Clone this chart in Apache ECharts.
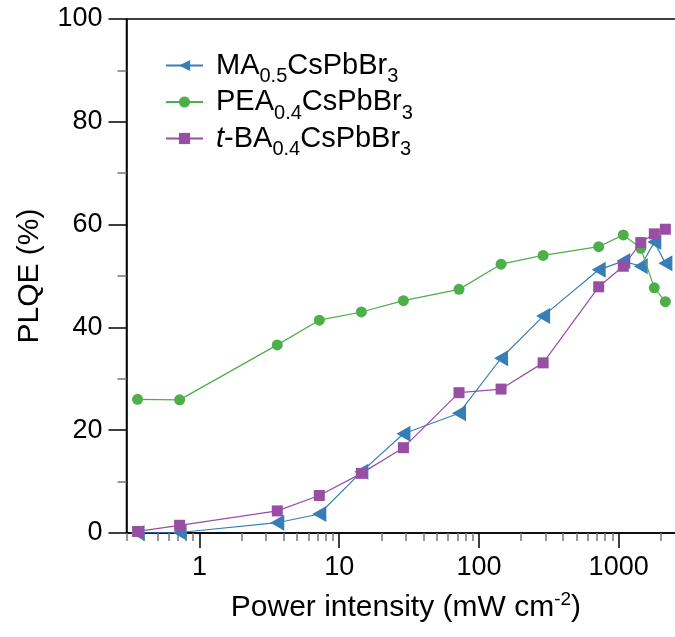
<!DOCTYPE html>
<html>
<head>
<meta charset="utf-8">
<script src="https://cdn.jsdelivr.net/npm/echarts@6/dist/echarts.min.js"></script>
<style>html,body{margin:0;padding:0;background:#fff;}#chart{width:675px;height:637px;}</style>
</head>
<body>
<div id="chart"></div>
<script>
// Data
const powerIntensity = [0.36, 0.72, 3.6, 7.2, 14.4, 28.8, 72, 144, 288, 720, 1080, 1440, 1800, 2160];
const plqeMA  = [0, 0.1, 2.0, 3.7, 11.9, 19.3, 23.3, 34.0, 42.2, 51.2, 52.9, 51.9, 56.6, 52.5];
const plqePEA = [26.0, 25.9, 36.6, 41.4, 43.0, 45.2, 47.4, 52.3, 54.0, 55.7, 58.0, 55.4, 47.7, 45.0];
const plqeTBA = [0.3, 1.5, 4.3, 7.3, 11.6, 16.6, 27.3, 28.0, 33.1, 47.9, 51.9, 56.5, 58.2, 59.1];
const seriesNames = ['MA', 'PEA', 'tBA'];
const xMajorTicks = [1, 10, 100, 1000];
const xMinorTicks = [0.3, 0.4, 0.5, 0.6, 0.7, 0.8, 0.9, 2, 3, 4, 5, 6, 7, 8, 9, 20, 30, 40, 50, 60, 70, 80, 90, 200, 300, 400, 500, 600, 700, 800, 900, 2000, 3000];
const yTicks = [0, 20, 40, 60, 80, 100];

const FONT = 'Liberation Sans, Arial, Helvetica, sans-serif';
const colors = {MA: '#377eb8', PEA: '#4daf4a', tBA: '#984ea3'};
const legendText = {
  MA: 'MA{sub|0.5}CsPbBr{sub|3}',
  PEA: 'PEA{sub|0.4}CsPbBr{sub|3}',
  tBA: '{it|t}-BA{sub|0.4}CsPbBr{sub|3}'
};
function pairs(ys) { return powerIntensity.map((x, i) => [x, ys[i]]); }

const chart = echarts.init(document.getElementById('chart'), null, {renderer: 'canvas'});
chart.setOption({
  animation: false,
  backgroundColor: '#fff',
  textStyle: {fontFamily: FONT},
  grid: {left: 126.5, top: 19, right: -10.3, bottom: 104, show: true, borderColor: '#000', borderWidth: 1.5,
         containLabel: false, outerBoundsMode: 'none'},
  legend: {
    orient: 'vertical', left: 165, top: 51, padding: 0, itemWidth: 37, itemHeight: 14, itemGap: 1,
    data: seriesNames,
    formatter: n => legendText[n],
    textStyle: {
      fontFamily: FONT, fontSize: 29, color: '#000', lineHeight: 26, padding: [0, 0, 0, 8],
      rich: {
        sub: {fontFamily: FONT, fontSize: 20, color: '#000', verticalAlign: 'top', padding: [14, 0, 0, 0], lineHeight: 26},
        it: {fontFamily: FONT, fontSize: 29, color: '#000', fontStyle: 'italic', lineHeight: 26}
      }
    }
  },
  xAxis: [{
    type: 'log', logBase: 10, min: 0.3, max: 3000,
    name: 'Power intensity (mW cm{sup|-2})', nameLocation: 'middle', nameGap: 59,
    nameTextStyle: {fontFamily: FONT, fontSize: 30, color: '#000', lineHeight: 32,
      rich: {sup: {fontFamily: FONT, fontSize: 19, color: '#000', verticalAlign: 'bottom', padding: [0, 0, 15, 0], lineHeight: 32}}},
    axisLine: {show: true, lineStyle: {color: '#000', width: 1.5}},
    axisTick: {show: true, customValues: xMajorTicks, length: 15, lineStyle: {color: '#000', width: 1.5}},
    axisLabel: {show: true, customValues: xMajorTicks, margin: 21, fontFamily: FONT, fontSize: 27, color: '#000',
      formatter: v => String(Math.round(v))},
    splitLine: {show: false}, minorTick: {show: false}, minorSplitLine: {show: false}
  }, {
    type: 'log', logBase: 10, min: 0.3, max: 3000, position: 'bottom', gridIndex: 0,
    axisLine: {show: false},
    axisTick: {show: true, customValues: xMinorTicks, length: 8, lineStyle: {color: '#777', width: 1.5}},
    axisLabel: {show: false}, splitLine: {show: false}
  }],
  yAxis: {
    type: 'value', min: 0, max: 100, interval: 20,
    name: 'PLQE (%)', nameLocation: 'middle', nameGap: 82,
    nameTextStyle: {fontFamily: FONT, fontSize: 30, color: '#000'},
    axisLine: {show: true, lineStyle: {color: '#000', width: 1.5}},
    axisTick: {show: true, length: 18, lineStyle: {color: '#000', width: 1.5}},
    minorTick: {show: true, splitNumber: 2, length: 9, lineStyle: {color: '#777', width: 1.5}},
    axisLabel: {margin: 24, fontFamily: FONT, fontSize: 27, color: '#000',
      customValues: yTicks},
    splitLine: {show: false}, minorSplitLine: {show: false}
  },
  series: [
    {name: 'MA', type: 'line', data: pairs(plqeMA), xAxisIndex: 0,
     symbol: 'triangle', symbolRotate: 90, symbolSize: [16, 14],
     itemStyle: {color: colors.MA}, lineStyle: {color: colors.MA, width: 1.2}, z: 2},
    {name: 'PEA', type: 'line', data: pairs(plqePEA), xAxisIndex: 0,
     symbol: 'circle', symbolSize: 11,
     itemStyle: {color: colors.PEA}, lineStyle: {color: colors.PEA, width: 1.2}, z: 3},
    {name: 'tBA', type: 'line', data: pairs(plqeTBA), xAxisIndex: 0,
     symbol: 'rect', symbolSize: 11,
     itemStyle: {color: colors.tBA}, lineStyle: {color: colors.tBA, width: 1.2}, z: 4}
  ]
});
</script>
</body>
</html>
